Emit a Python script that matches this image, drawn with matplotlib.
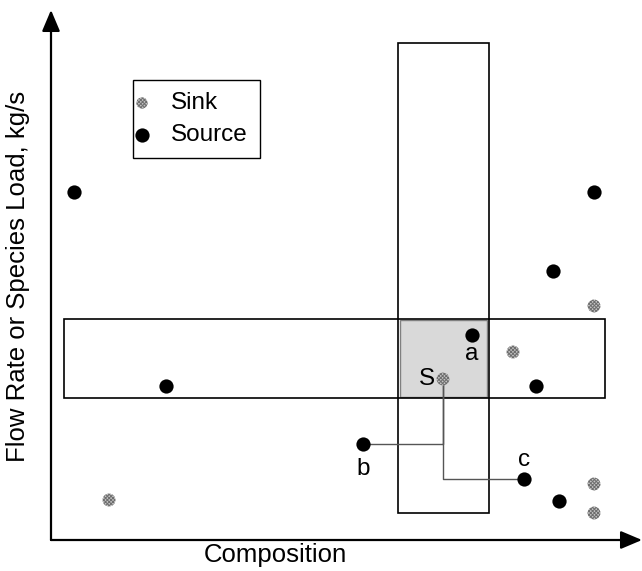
import numpy as np
import matplotlib.pyplot as plt
from matplotlib.patches import Rectangle

plt.rcParams['font.family'] = ['Liberation Sans', 'DejaVu Sans']
plt.rcParams['hatch.linewidth'] = 0.7

# -- -----------------------------
# data (composition, flow/load), arbitrary schematic units
source_comp = [23, 115, 421, 485, 543, 502, 312, 473, 508]
source_flow = [348, 154, 205, 154, 348, 269, 96, 61, 39]

sink_comp = [543, 462, 392, 58, 543, 543]
sink_flow = [234, 188, 161, 40, 56, 27]

# bands: (comp_lo, comp_hi, flow_lo, flow_hi)
flow_band = (13, 554, 142, 221)
comp_band = (347, 438, 27, 497)

# point labels
label_text = ['a', 'b', 'c', 'S']
label_comp = [421, 312, 473, 384]
label_flow = [186, 71, 80, 161]
label_ha = ['center', 'center', 'center', 'right']

# mixing path b -> S -> c
path_comp = [312, 392, 392, 392, 473]
path_flow = [96, 96, 161, 61, 61]

# axis extents
x_end, y_end = 591, 530
# -- -----------------------------

fig = plt.figure(figsize=(6.42, 5.71), dpi=100)
ax = fig.add_axes([0, 0, 1, 1])
ax.set_xlim(-51, 591)
ax.set_ylim(-31, 540)
ax.axis('off')

# -- -----------------------------
# axes with arrow heads
ax.annotate('', xy=(0, y_end), xytext=(0, 0),
            arrowprops=dict(arrowstyle='-|>,head_length=1.3,head_width=0.55',
                            color='black', lw=1.6, shrinkA=0, shrinkB=0))
ax.annotate('', xy=(x_end, 0), xytext=(0, 0),
            arrowprops=dict(arrowstyle='-|>,head_length=1.3,head_width=0.55',
                            color='black', lw=1.6, shrinkA=0, shrinkB=0))

# -- -----------------------------
# overlap region
ax.add_patch(Rectangle((comp_band[0] + 2, flow_band[2] + 1),
                       comp_band[1] - comp_band[0] - 4,
                       flow_band[3] - flow_band[2] - 2,
                       facecolor='#d9d9d9', edgecolor='#808080', lw=1.0, zorder=1))

for b in (flow_band, comp_band):
    ax.add_patch(Rectangle((b[0], b[2]), b[1] - b[0], b[3] - b[2],
                           fill=False, edgecolor='black', lw=1.2, zorder=2))

# -- -----------------------------
ax.plot(path_comp, path_flow, color='#555555', lw=1.0, zorder=3)

ax.scatter(sink_comp, sink_flow, s=85, facecolor='#c4c4c4', edgecolor='#6e6e6e',
           hatch='xxxxxxxxx', lw=0, zorder=4)
ax.scatter(source_comp, source_flow, s=105, color='black', lw=0, zorder=5)

for t, cx, fy, ha in zip(label_text, label_comp, label_flow, label_ha):
    ax.text(cx, fy, t, ha=ha, va='center', fontsize=17.5, zorder=6)

# -- -----------------------------
# legend box
ax.add_patch(Rectangle((82, 382), 127, 78, fill=False, edgecolor='black', lw=1.0))
ax.scatter([91], [437], s=65, facecolor='#c4c4c4', edgecolor='#6e6e6e',
           hatch='xxxxxxxxx', lw=0)
ax.scatter([91], [405], s=105, color='black', lw=0)
ax.text(120, 437, 'Sink', ha='left', va='center', fontsize=17.5)
ax.text(120, 405, 'Source', ha='left', va='center', fontsize=17.5)

# -- -----------------------------
ax.text(224, -15, 'Composition', ha='center', va='center', fontsize=18.5)
ax.text(-33, 264, 'Flow Rate or Species Load, kg/s', ha='center', va='center',
        rotation=90, fontsize=18.5)

fig.savefig('out.png', dpi=100)
